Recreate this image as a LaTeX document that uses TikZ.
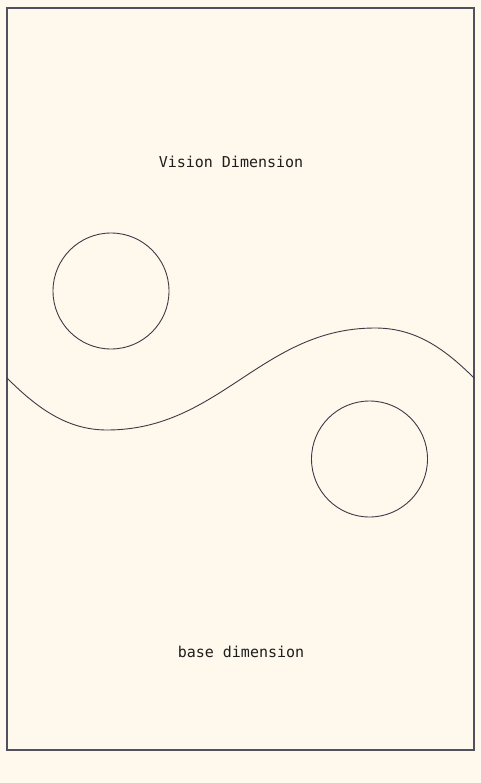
\documentclass[tikz,border=0pt]{standalone}
\usepackage{fontspec}
\setmonofont{DejaVu Sans Mono}
\definecolor{bgc}{HTML}{FFF8EC}
\definecolor{framec}{HTML}{50505E}
\definecolor{linec}{HTML}{3A3A48}
\definecolor{txtc}{HTML}{1E1E1E}
\begin{document}
\begin{tikzpicture}[x=1pt,y=-1pt,
  lbl/.style={font=\ttfamily\fontsize{15}{18}\selectfont, text=txtc, inner sep=0pt},
  ring/.style={draw=linec, line width=0.9pt, circle, minimum size=116pt, inner sep=0pt},
  wave/.style={draw=linec, line width=0.9pt}]
\fill[bgc] (0,0) rectangle (481,783);
\useasboundingbox (0,0) rectangle (481,783);
\draw[framec, line width=1.1pt] (7,8) rectangle (474,750);
\node[lbl] (top) at (231,162) {Vision Dimension};
\node[lbl] (bot) at (241,652) {base dimension};
\node[ring] (c1) at (111,291) {};
\node[ring] (c2) at (369.5,459) {};
\coordinate (w0) at (7,378);
\coordinate (w1) at (107,430);
\coordinate (w2) at (375,328);
\coordinate (w3) at (474,378);
\draw[wave] (w0) .. controls (37,408) and (67,430) .. (w1)
  .. controls (220,430) and (262,328) .. (w2)
  .. controls (415,328) and (444,348) .. (w3);
\end{tikzpicture}
\end{document}
